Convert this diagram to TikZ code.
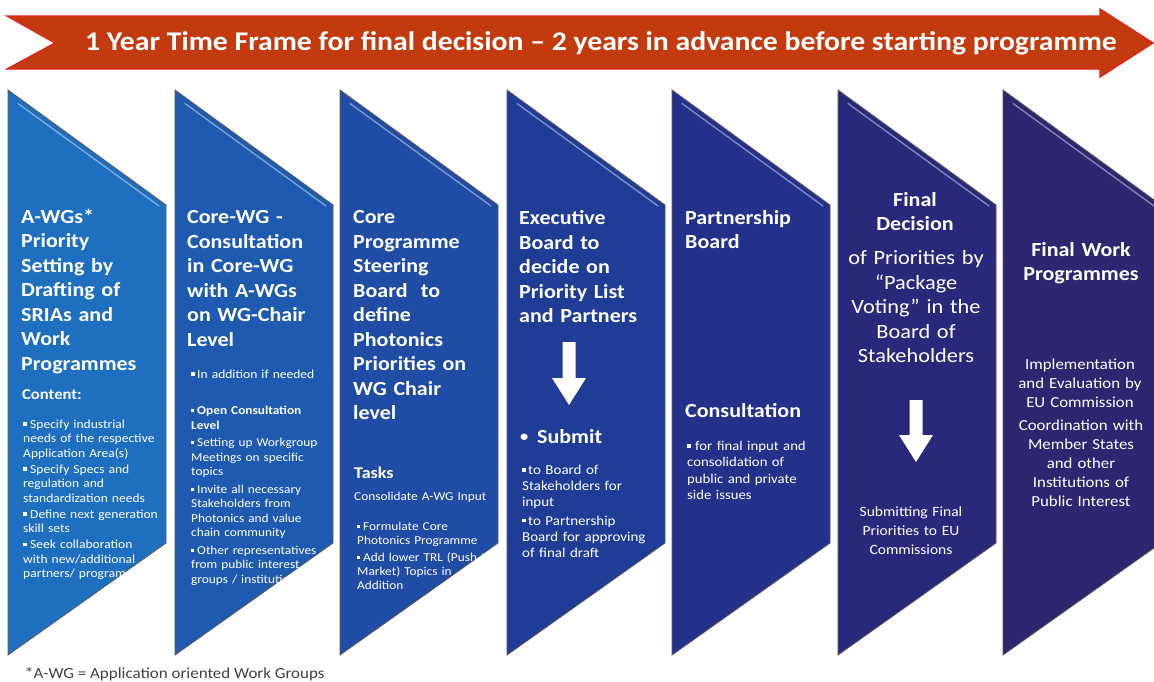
\documentclass[tikz,border=0pt]{standalone}
\usepackage{fontspec}
\setmainfont{Carlito}[FakeStretch=1.1]
\definecolor{c1}{HTML}{1F6FC0}
\definecolor{c2}{HTML}{1E5BB0}
\definecolor{c3}{HTML}{1F4CA5}
\definecolor{c4}{HTML}{1F3C96}
\definecolor{c5}{HTML}{23318A}
\definecolor{c6}{HTML}{29297C}
\definecolor{c7}{HTML}{2C2770}
\definecolor{bannerfill}{HTML}{C33A0E}
\definecolor{bannerline}{HTML}{E0241C}
\newcommand\fz[2]{\fontsize{#1}{#2}\selectfont}
\newcommand\sqb{\raisebox{.2em}{\rule{.27em}{.27em}}}
\newcommand\bl[2][7pt]{\par\hangindent=#1\hangafter=1\noindent\makebox[#1][l]{\sqb}#2}
\newcommand\colshape[2]{%
  \fill[#2] (#1,90) -- ++(158,115) -- ++(0,338) -- (#1,655) -- cycle;
  \draw[coledge] (#1,90) -- ++(158,115) -- ++(0,338) -- (#1,655) -- cycle;
  \draw[colhl] (#1+10,103.5) -- (#1+151,206);
}
\newcommand\darrow[3]{%
  \fill[white] (#1-6.5,#2) -- (#1+6.5,#2) -- (#1+6.5,#3-27) -- (#1+17,#3-27)
    -- (#1,#3) -- (#1-17,#3-27) -- (#1-6.5,#3-27) -- cycle;
}
\tikzset{
  coledge/.style={draw=black!65, line width=0.8pt, line join=miter},
  colhl/.style={draw=white, line width=1.3pt, opacity=0.45, line cap=round},
  txt/.style={text=white, inner sep=0pt, anchor=north west, align=left, text width=150pt},
  ctxt/.style={text=white, inner sep=0pt, anchor=north, align=center, text width=150pt},
  title/.style={font=\fz{20}{24.5}\bfseries},
  small/.style={font={\fz{12.3}{14.5}\setlength\parskip{1.5pt}}},
}
\begin{document}
\begin{tikzpicture}[x=1pt,y=-1pt]
\useasboundingbox (0,0) rectangle (1154,681);
\begin{scope}
\clip (0,0) rectangle (1154,681);
% banner
\fill[bannerfill] (7,16) -- (1100,16) -- (1100,9) -- (1153,43) -- (1100,77) -- (1100,69) -- (7,69) -- (55,43) -- cycle;
\draw[bannerline, line width=1.4pt, line join=miter] (7,16) -- (1100,16) -- (1100,9) -- (1153,43) -- (1100,77) -- (1100,69) -- (7,69) -- (55,43) -- cycle;
\node[text=white, font=\fz{27}{30}\bfseries, inner sep=0pt] (banner) at (601,43) {1 Year Time Frame for final decision – 2 years in advance before starting programme};
% columns
\colshape{8}{c1}
\colshape{175}{c2}
\colshape{340}{c3}
\colshape{507}{c4}
\colshape{672}{c5}
\colshape{838}{c6}
\colshape{1003}{c7}
\end{scope}

% column 1
\node[txt, title] (t1) at (21,208.5) {A-WGs*\\Priority\\Setting by\\Drafting of\\SRIAs and\\Work\\Programmes};
\node[txt, font=\fz{15.1}{18}\bfseries] (content) at (22,389.5) {Content:};
\node[txt, small, text width=140pt] (l1) at (23,412) {%
\bl{Specify industrial\\needs of the respective\\Application Area(s)}
\bl{Specify Specs and\\regulation and\\standardization needs}
\bl{Define next generation\\skill sets}
\bl{Seek collaboration\\with new/additional\\partners/ programs}};

% column 2
\node[txt, title] (t2) at (187,210.5) {Core-WG -\\Consultation\\in Core-WG\\with A-WGs\\on WG-Chair\\Level};
\node[txt, small, text width=140pt] (l2a) at (191,362) {\bl[6pt]{In addition if needed}};
\node[txt, font={\fz{12.1}{14.5}\setlength\parskip{3pt}}, text width=140pt] (l2) at (191,397) {%
\bl[6pt]{{\bfseries Open Consultation\\Level}}
\bl[6pt]{Setting up Workgroup\\Meetings on specific\\topics}
\bl[6pt]{Invite all necessary\\Stakeholders from\\Photonics and value\\chain community}
\bl[6pt]{Other representatives\\from public interest\\groups / institutions}};

% column 3
\node[txt, title] (t3) at (353,210.5) {Core\\Programme\\Steering\\Board~ to\\define\\Photonics\\Priorities on\\WG Chair\\level};
\node[txt, font=\fz{16.4}{19}\bfseries] (tasks) at (354,467) {Tasks};
\node[txt, font=\fz{12.1}{14}] (cons) at (354,492) {Consolidate A-WG Input};
\node[txt, font={\fz{12.1}{13.8}\setlength\parskip{3.5pt}}, text width=140pt] (l3) at (357,513) {%
\bl[6pt]{Formulate Core\\Photonics Programme}
\bl[6pt]{Add lower TRL (Push to\\Market) Topics in\\Addition}};

% column 4
\node[txt, title] (t4) at (519,210.5) {Executive\\Board to\\decide on\\Priority List\\and Partners};
\darrow{569}{342}{405}
\node[txt, font=\fz{20}{24}\bfseries] (submit) at (520,429) {\makebox[17pt][l]{\raisebox{.1em}{\fz{15}{15}•}}Submit};
\node[txt, font={\fz{13.6}{16.2}\setlength\parskip{2pt}}, text width=140pt] (l4) at (522,456) {%
\bl[6pt]{to Board of\\Stakeholders for\\input}
\bl[6pt]{to Partnership\\Board for approving\\of final draft}};

% column 5
\node[txt, title] (t5) at (685,210) {Partnership\\Board};
\node[txt, font=\fz{20}{24}\bfseries] (consult) at (685,403) {Consultation};
\node[txt, font={\fz{13.4}{16.3}}, text width=140pt] (l5) at (687,434) {%
\bl[8pt]{for final input and\\consolidation of\\public and private\\side issues}};

% column 6
\node[ctxt, title] (t6) at (915,192) {Final\\Decision};
\node[ctxt, font=\fz{20.3}{24.5}] (t6b) at (916,250.5) {of Priorities by\\“Package\\Voting” in the\\Board of\\Stakeholders};
\darrow{916}{400}{462}
\node[ctxt, font=\fz{14.1}{19}] (l6) at (911,506) {Submitting Final\\Priorities to EU\\Commissions};

% column 7
\node[ctxt, title] (t7) at (1081,242) {Final Work\\Programmes};
\node[ctxt, font=\fz{15.3}{19}] (l7a) at (1080,359) {Implementation\\and Evaluation by\\EU Commission};
\node[ctxt, font=\fz{15.3}{19}] (l7b) at (1081,420) {Coordination with\\Member States\\and other\\Institutions of\\Public Interest};

% footnote
\node[anchor=west, inner sep=0pt, font=\fz{15.4}{18}, text=black!75] (fn) at (25,674) {*A-WG = Application oriented Work Groups};
\end{tikzpicture}
\end{document}
